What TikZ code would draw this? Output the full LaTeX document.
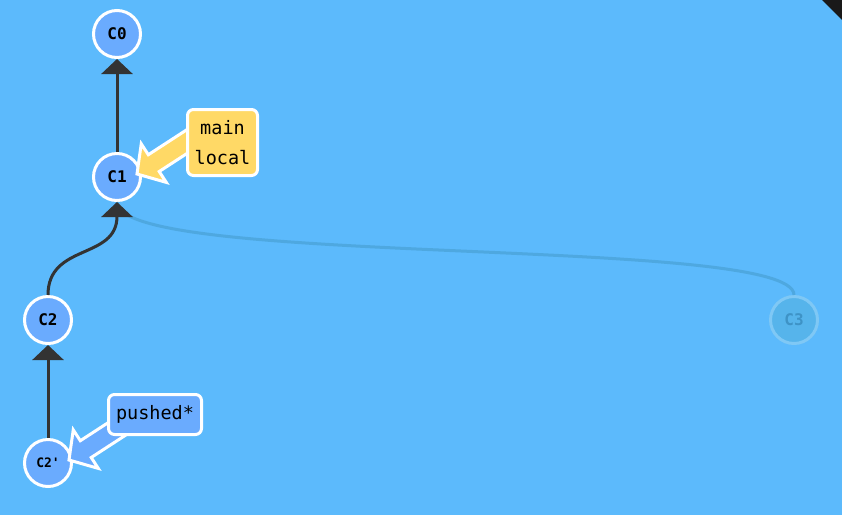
\documentclass[tikz,border=0pt]{standalone}
\usepackage{fontspec}
\setmonofont{DejaVu Sans Mono}
\usetikzlibrary{arrows.meta,calc}

\definecolor{bgblue}{HTML}{5CBAFC}
\definecolor{commitblue}{HTML}{6AABFE}
\definecolor{branchyellow}{HTML}{FFD966}
\definecolor{edgegray}{HTML}{333333}
\definecolor{ghostfill}{HTML}{56B4EB}
\definecolor{ghostline}{HTML}{7FC8F5}
\definecolor{ghosttext}{HTML}{3E93C6}
\definecolor{ghostedge}{HTML}{4EA8E0}

\tikzset{
    commit/.style={circle, draw=white, line width=3pt, fill=commitblue,
        minimum size=47pt, inner sep=0pt,
        font=\ttfamily\bfseries\fontsize{16}{16}\selectfont},
    ghostcommit/.style={commit, draw=ghostline, fill=ghostfill, text=ghosttext},
    edge/.style={draw=edgegray, line width=3pt,
        -{Triangle[width=31pt,length=15pt]}},
    branchbox/.style={draw=white, line width=3pt, rounded corners=6pt,
        inner sep=0pt, align=center,
        font=\ttfamily\fontsize{18.5}{30}\selectfont},
    callout/.style={draw=white, line width=3pt, line join=miter}
}

\begin{document}
\begin{tikzpicture}[x=1pt,y=-1pt]
    % background and the corner mark
    \useasboundingbox (0,0) rectangle (842,515);
    \fill[bgblue] (0,0) rectangle (842,515);
    \fill[black!90] (822,0) -- (842,0) -- (842,20) -- cycle;

    % the commits
    \node[commit] (c0) at (117,34) {C0};
    \node[commit] (c1) at (117,177) {C1};
    \node[commit] (c2) at (48,320) {C2};
    \node[commit, font=\ttfamily\bfseries\fontsize{13}{13}\selectfont] (c2p) at (48,463) {C2'};
    \node[ghostcommit] (c3) at (794,320) {C3};

    % the parent links
    \draw[ghostedge, line width=3pt] (c3.north) .. controls ($(c3.north)+(0,-60)$) and ($(c1.south)+(0,66)$) .. (c1.south);
    \draw[edge] (c1.north) -- (c0.south);
    \draw[edge] (c2.north) .. controls ($(c2.north)+(0,-52)$) and ($(c1.south)+(0,58)$) .. (c1.south);
    \draw[edge] (c2p.north) -- (c2.south);

    % the branch callouts
    \begin{scope}[shift={($(c1)+(20,-3)$)}, rotate=33]
        \draw[callout, fill=branchyellow] (0,0) -- (20,-23) -- (20,-10) -- (78,-10)
            -- (78,10) -- (20,10) -- (20,23) -- cycle;
    \end{scope}
    \begin{scope}[shift={($(c2p)+(21,-3)$)}, rotate=33]
        \draw[callout, fill=commitblue] (0,0) -- (20,-23) -- (20,-10) -- (72,-10)
            -- (72,10) -- (20,10) -- (20,23) -- cycle;
    \end{scope}

    \node[branchbox, fill=branchyellow, minimum width=70pt, minimum height=66pt]
        (mainlbl) at ($(c1)+(105.5,-34.5)$) {main\\local};
    \node[branchbox, fill=commitblue, minimum width=93pt, minimum height=40pt]
        (pushedlbl) at ($(c2p)+(107,-48.5)$) {pushed*};
\end{tikzpicture}
\end{document}
